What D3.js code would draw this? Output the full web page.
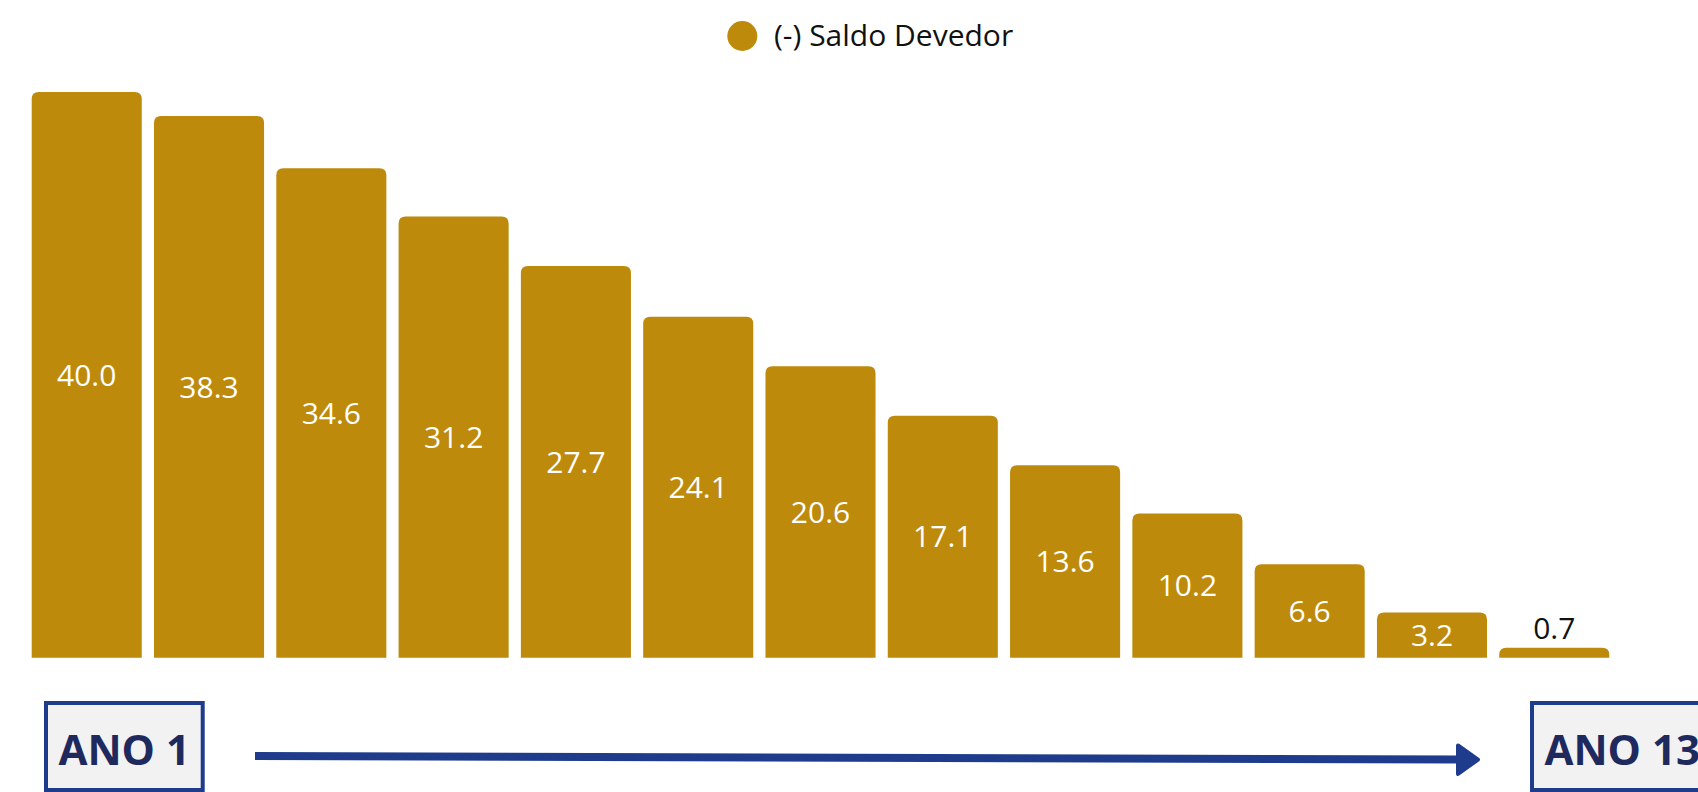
<!DOCTYPE html>
<html>
<head>
<meta charset="utf-8">
<script src="https://cdn.jsdelivr.net/npm/d3@7"></script>
<style>
  html, body { margin: 0; padding: 0; background: #ffffff; }
  svg { display: block; }
  text { font-family: "Open Sans", "Noto Sans", sans-serif; }
</style>
</head>
<body>
<div id="chart"></div>
<script>
// Debt balance per year of the financing term
const categories = ["Ano 1", "Ano 2", "Ano 3", "Ano 4", "Ano 5", "Ano 6", "Ano 7",
                    "Ano 8", "Ano 9", "Ano 10", "Ano 11", "Ano 12", "Ano 13"];
const saldoDevedor = [40.0, 38.3, 34.6, 31.2, 27.7, 24.1, 20.6, 17.1, 13.6, 10.2, 6.6, 3.2, 0.7];
const seriesName = "(-) Saldo Devedor";
const startLabel = "ANO 1";
const endLabel = "ANO 13";

const W = 1698, H = 792;
const gold = "#BE8A0B";
const navy = "#1F3C8C";
const navyText = "#1E2A5E";

const svg = d3.select("#chart").append("svg")
  .attr("width", W).attr("height", H);

const x = d3.scaleBand()
  .domain(categories)
  .range([31.7, 1609.3])
  .paddingInner(0.1)
  .paddingOuter(0);

const y = d3.scaleLinear()
  .domain([0, 40])
  .range([657.7, 92]);

// bar with rounded top corners only
function topRoundedBar(x0, y0, w, h, r) {
  r = Math.min(r, h, w / 2);
  return `M${x0},${y0 + h}` +
         `V${y0 + r}` +
         `Q${x0},${y0} ${x0 + r},${y0}` +
         `H${x0 + w - r}` +
         `Q${x0 + w},${y0} ${x0 + w},${y0 + r}` +
         `V${y0 + h}Z`;
}

const data = categories.map((c, i) => ({ cat: c, value: saldoDevedor[i] }));

svg.append("g").selectAll("path")
  .data(data)
  .join("path")
  .attr("d", d => topRoundedBar(x(d.cat), y(d.value), x.bandwidth(), y(0) - y(d.value), 7))
  .attr("fill", gold);

// value labels: inside the bar when it fits, above it otherwise
const labelSize = 30;
svg.append("g").selectAll("text")
  .data(data)
  .join("text")
  .attr("x", d => x(d.cat) + x.bandwidth() / 2)
  .attr("y", d => {
    const h = y(0) - y(d.value);
    if (h > labelSize + 6) return (y(d.value) + y(0)) / 2 + labelSize * 0.357;
    return y(d.value) - 9;
  })
  .attr("text-anchor", "middle")
  .attr("font-size", labelSize)
  .attr("fill", d => (y(0) - y(d.value) > labelSize + 6) ? "#ffffff" : "#111111")
  .text(d => d3.format(".1f")(d.value));

// legend
const legend = svg.append("g");
legend.append("circle")
  .attr("cx", 742.3).attr("cy", 36).attr("r", 15)
  .attr("fill", gold);
legend.append("text")
  .attr("x", 774).attr("y", 45.5)
  .attr("font-size", 30)
  .attr("fill", "#111111")
  .text(seriesName);

// timeline: start box, arrow, end box
function yearBox(x0, label) {
  const g = svg.append("g");
  g.append("rect")
    .attr("x", x0 + 2).attr("y", 703)
    .attr("width", label === startLabel ? 156.7 : 190)
    .attr("height", 87)
    .attr("fill", "#F2F2F2")
    .attr("stroke", navy)
    .attr("stroke-width", 4);
  g.append("text")
    .attr("x", x0 + 14.5).attr("y", 765)
    .attr("font-size", 42)
    .attr("font-weight", 700)
    .attr("fill", navyText)
    .text(label);
}
yearBox(44, startLabel);
yearBox(1530, endLabel);

svg.append("line")
  .attr("x1", 255).attr("y1", 756)
  .attr("x2", 1462).attr("y2", 759.5)
  .attr("stroke", navy)
  .attr("stroke-width", 8);

svg.append("path")
  .attr("d", "M1458,745.5 L1478,759.6 L1458,774 Z")
  .attr("fill", navy)
  .attr("stroke", navy)
  .attr("stroke-width", 4)
  .attr("stroke-linejoin", "round");
</script>
</body>
</html>
